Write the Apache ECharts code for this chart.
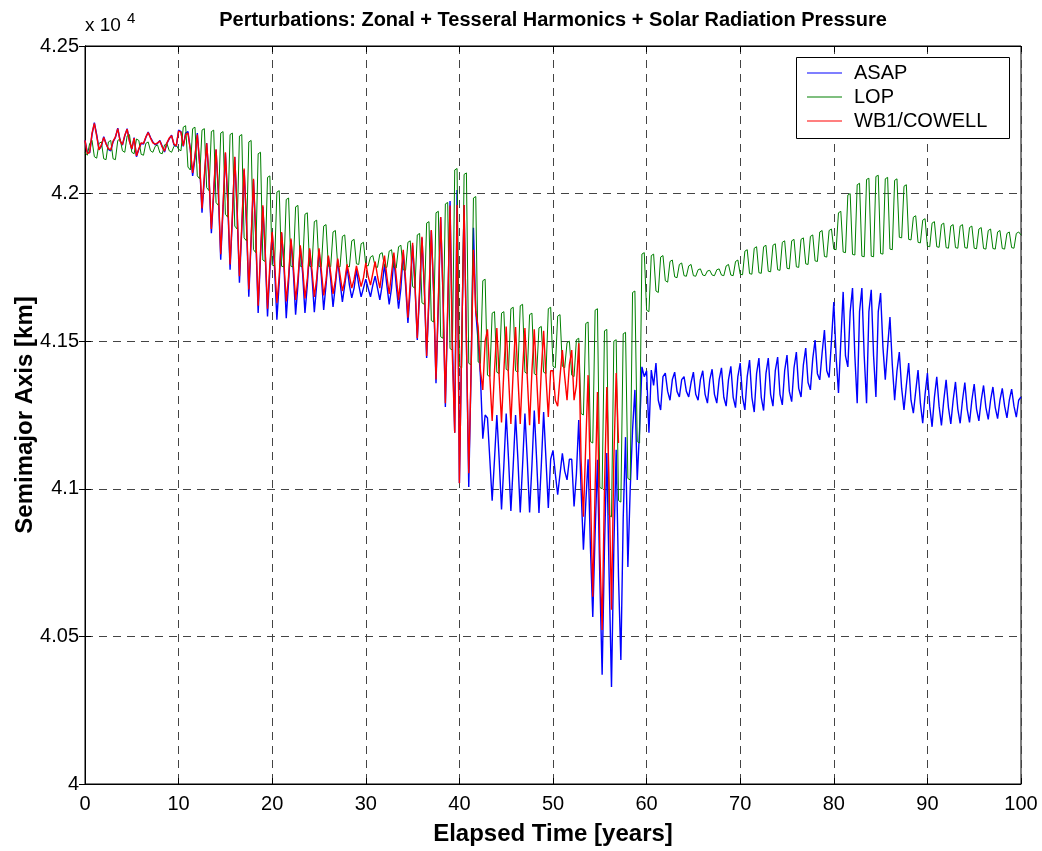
<!DOCTYPE html>
<html><head><meta charset="utf-8">
<script src="https://cdn.jsdelivr.net/npm/echarts@6/dist/echarts.min.js"></script>
<style>html,body{margin:0;padding:0;background:#fff}#c{width:1042px;height:851px}</style>
</head><body><div id="c"></div>
<script>
// samples every quarter year, values in km
const STEP = 0.25;
const SERIES_NAMES = ['ASAP', 'LOP', 'WB1/COWELL'];
const ASAP = [
42180,42140,42138,42200, 42240,42200,42150,42160, 42193,42170,42150,42145, 42175,42190,42222,42180,
42164,42195,42220,42180, 42150,42190,42125,42150, 42170,42168,42190,42209, 42190,42175,42165,42170,
42180,42160,42141,42170, 42185,42198,42165,42160, 42215,42210,42160,42205, 42210,42150,42060,42120,
42205,42100,41935,42050, 42171,42050,41866,42000, 42148,42000,41776,41950, 42137,41970,41742,41920,
42124,41940,41698,41880, 42080,41900,41651,41840, 42046,41850,41596,41790, 41955,41800,41584,41740,
41866,41750,41573,41700, 41866,41760,41578,41700, 41843,41740,41590,41690, 41820,41730,41596,41690,
41810,41720,41598,41690, 41810,41720,41606,41690, 41786,41710,41616,41690, 41776,41700,41633,41690,
41752,41690,41647,41680, 41742,41690,41650,41680, 41710,41680,41650,41690, 41720,41680,41640,41690,
41760,41690,41625,41680, 41780,41690,41610,41680, 41800,41690,41562,41670, 41825,41690,41504,41660,
41850,41680,41443,41640, 41875,41660,41358,41620, 41920,41650,41277,41600, 41975,41500,41190,42012,
41020,41500,41961,41500, 41006,41400,41884,41600, 41500,41380,41170,41250, 41240,41100,40960,41100,
41250,41100,40930,41080, 41255,41100,40925,41080, 41250,41100,40920,41080, 41255,41100,40920,41080,
41265,41100,40918,41080, 41260,41100,40935,41100, 41130,41050,40980,41050, 41120,41060,41030,41100,
41100,40940,41050,41233, 41000,40794,40950,41100, 40800,40566,40850,41098, 40700,40370,40800,41121,
40700,40329,40800,41132, 40700,40420,40900,41175, 40735,41000,41200,41335, 41030,41200,41413,41380,
41400,41190,41402,41350, 41426,41300,41267,41380, 41392,41330,41300,41370, 41395,41330,41311,41370,
41380,41330,41311,41360, 41395,41320,41300,41370, 41400,41320,41290,41370, 41405,41320,41290,41370,
41410,41310,41280,41370, 41415,41310,41275,41380, 41426,41310,41267,41380, 41436,41310,41260,41390,
41443,41310,41265,41390, 41443,41320,41280,41400, 41446,41320,41284,41400, 41453,41330,41295,41410,
41463,41340,41311,41420, 41477,41360,41335,41440, 41504,41390,41369,41460, 41538,41400,41377,41500,
41633,41446,41325,41500, 41667,41450,41413,41600, 41680,41450,41290,41600, 41680,41450,41290,41600,
41674,41450,41311,41600, 41663,41480,41370,41480, 41582,41420,41300,41400, 41463,41340,41267,41350,
41426,41300,41256,41330, 41402,41290,41222,41320, 41392,41280,41210,41310, 41379,41280,41215,41300,
41369,41275,41220,41300, 41362,41270,41222,41300, 41360,41270,41225,41300, 41355,41270,41230,41300,
41350,41275,41235,41300, 41345,41275,41238,41300, 41340,41280,41240,41300, 41338,41280,41243,41300,
41311
];
const LOP = [
42140,42130,42170,42180, 42125,42120,42170,42175, 42118,42115,42175,42180, 42118,42115,42180,42185,
42145,42140,42195,42200, 42140,42135,42185,42180, 42133,42130,42170,42175, 42145,42140,42160,42165,
42138,42135,42165,42170, 42145,42140,42160,42165, 42150,42145,42225,42230, 42090,42080,42220,42225,
42060,42050,42215,42220, 42020,42010,42210,42215, 41970,41960,42205,42210, 41930,41920,42200,42205,
41890,41880,42195,42200, 41850,41840,42175,42180, 41810,41800,42135,42140, 41775,41770,42055,42060,
41758,41755,42005,42010, 41754,41752,41980,41985, 41754,41752,41955,41960, 41754,41752,41930,41935,
41754,41752,41905,41910, 41754,41752,41890,41895, 41754,41752,41870,41875, 41754,41752,41855,41860,
41754,41752,41840,41845, 41762,41760,41830,41835, 41757,41755,41785,41790, 41752,41750,41795,41800,
41752,41750,41805,41810, 41750,41748,41820,41825, 41742,41740,41835,41840, 41685,41680,41860,41865,
41630,41625,41900,41905, 41570,41565,41935,41940, 41515,41510,41965,41970, 41475,41470,42080,42085,
41415,41410,42065,42070, 41425,41420,41985,41990, 41430,41425,41705,41710, 41385,41380,41595,41600,
41395,41390,41595,41600, 41405,41400,41610,41615, 41400,41395,41620,41625, 41395,41390,41590,41595,
41390,41385,41545,41550, 41395,41390,41610,41615, 41415,41410,41585,41590, 41415,41410,41495,41500,
41385,41380,41505,41510, 41255,41250,41560,41565, 41160,41155,41605,41610, 41005,41000,41535,41540,
40910,40905,41500,41505, 40960,40955,41525,41530, 41035,41030,41665,41670, 41160,41155,41795,41800,
41605,41600,41790,41795, 41670,41665,41785,41790, 41705,41700,41770,41775, 41718,41715,41760,41765,
41722,41720,41755,41760, 41722,41720,41742,41745, 41724,41722,41738,41740, 41724,41722,41742,41745,
41724,41722,41755,41760, 41724,41722,41770,41775, 41727,41725,41805,41810, 41729,41727,41815,41820,
41732,41730,41820,41825, 41737,41735,41825,41830, 41742,41740,41835,41840, 41747,41745,41840,41845,
41752,41750,41845,41850, 41762,41760,41855,41860, 41772,41770,41870,41875, 41787,41785,41875,41880,
41812,41810,41935,41940, 41802,41800,41995,42000, 41794,41792,42030,42035, 41788,41786,42048,42052,
41788,41786,42058,42062, 41797,41795,42050,42055, 41812,41810,42045,42050, 41852,41850,42025,42030,
41845,41843,41920,41925, 41835,41833,41910,41915, 41822,41820,41900,41905, 41820,41818,41895,41900,
41817,41815,41890,41895, 41817,41815,41890,41895, 41817,41815,41885,41890, 41815,41813,41880,41885,
41814,41812,41875,41880, 41814,41812,41870,41875, 41814,41812,41865,41870, 41817,41815,41865,41870,
41860
];
const WB1 = [
42180,42135,42140,42205, 42238,42195,42148,42165, 42190,42168,42152,42148, 42178,42192,42220,42178,
42166,42198,42218,42176, 42152,42188,42128,42152, 42172,42170,42192,42207, 42188,42172,42168,42172,
42178,42158,42144,42172, 42188,42196,42168,42162, 42212,42208,42162,42200, 42205,42150,42070,42130,
42200,42100,41950,42060, 42170,42060,41880,42010, 42150,42010,41795,41960, 42140,41980,41760,41930,
42125,41950,41720,41890, 42085,41910,41675,41850, 42050,41860,41620,41800, 41960,41810,41610,41760,
41870,41770,41630,41720, 41870,41770,41635,41720, 41848,41760,41640,41710, 41825,41750,41645,41710,
41815,41740,41650,41710, 41815,41740,41655,41705, 41790,41730,41660,41705, 41780,41725,41670,41705,
41760,41720,41680,41710, 41755,41720,41685,41715, 41765,41720,41690,41730, 41770,41720,41680,41740,
41790,41720,41660,41730, 41800,41720,41640,41720, 41810,41710,41580,41700, 41833,41700,41510,41680,
41854,41690,41450,41660, 41877,41670,41370,41640, 41921,41660,41290,41620, 41960,41450,41190,41961,
41019,41500,41961,41500, 41053,41400,41810,41600, 41549,41400,41335,41500, 41540,41380,41230,41400,
41545,41380,41225,41400, 41550,41380,41220,41400, 41548,41380,41220,41400, 41545,41380,41215,41400,
41540,41380,41220,41400, 41535,41380,41243,41400, 41400,41300,41280,41380, 41470,41380,41300,41420,
41470,41300,41350,41493, 41100,40905,41150,41385, 41000,40634,41000,41328, 40800,40522,41000,41345,
41000,40590,41100,41392, 41155
];

const toXY = arr => arr.map((v, i) => [i * STEP, v]);
const FONT = '"Liberation Sans", Arial, Helvetica, sans-serif';
const chart = echarts.init(document.getElementById('c'), null, {renderer: 'canvas'});

const tickStyle = {show: true, inside: true, length: 6, lineStyle: {color: '#000', width: 1}};
chart.setOption({
  animation: false,
  backgroundColor: '#fff',
  title: {
    text: 'Perturbations: Zonal + Tesseral Harmonics + Solar Radiation Pressure',
    left: 553, textAlign: 'center', top: 10, padding: 0,
    textStyle: {fontFamily: FONT, fontSize: 20, fontWeight: 'bold', color: '#000'}
  },
  grid: {left: 85, right: 21, top: 46, bottom: 67, show: true, borderColor: '#000', borderWidth: 1,
         containLabel: false, outerBoundsMode: 'none'},
  legend: {
    data: SERIES_NAMES, orient: 'vertical', left: 807, top: 61, padding: 0,
    icon: 'rect', itemWidth: 35, itemHeight: 1.2, itemGap: 0, z: 60,
    textStyle: {fontFamily: FONT, fontSize: 20, color: '#000', padding: [0, 0, 0, 7], lineHeight: 24, height: 24}
  },
  graphic: [
    {type: 'rect', z: 50, shape: {x: 796.5, y: 57.5, width: 213, height: 81},
     style: {fill: '#fff', stroke: '#000', lineWidth: 1}},
    {type: 'text', z: 50, style: {x: 85, y: 35, text: 'x 10', font: '19px ' + FONT, fill: '#000', textVerticalAlign: 'bottom'}},
    {type: 'text', z: 50, style: {x: 127, y: 26, text: '4', font: '15px ' + FONT, fill: '#000', textVerticalAlign: 'bottom'}}
  ],
  xAxis: [{
    type: 'value', min: 0, max: 100, interval: 10, position: 'bottom',
    name: 'Elapsed Time [years]', nameLocation: 'middle', nameGap: 38, nameMoveOverlap: false,
    nameTextStyle: {fontFamily: FONT, fontSize: 24, fontWeight: 'bold', color: '#000'},
    axisLine: {show: true, lineStyle: {color: '#000', width: 1}},
    axisTick: tickStyle,
    axisLabel: {fontFamily: FONT, fontSize: 20, color: '#000', margin: 10},
    splitLine: {show: true, lineStyle: {color: '#444', width: 1, type: [8, 6]}}
  }, {
    type: 'value', min: 0, max: 100, interval: 10, position: 'top',
    axisLine: {show: true, lineStyle: {color: '#000'}}, axisTick: tickStyle,
    axisLabel: {show: false}, splitLine: {show: false}
  }],
  yAxis: [{
    type: 'value', min: 40000, max: 42500, interval: 500, position: 'left',
    name: 'Semimajor Axis [km]', nameLocation: 'middle', nameGap: 48, nameMoveOverlap: false,
    nameTextStyle: {fontFamily: FONT, fontSize: 24, fontWeight: 'bold', color: '#000'},
    axisLine: {show: true, lineStyle: {color: '#000', width: 1}},
    axisTick: tickStyle,
    axisLabel: {fontFamily: FONT, fontSize: 20, color: '#000', margin: 6,
      formatter: v => String(parseFloat((v / 10000).toFixed(2)))},
    splitLine: {show: true, lineStyle: {color: '#444', width: 1, type: [8, 6]}}
  }, {
    type: 'value', min: 40000, max: 42500, interval: 500, position: 'right',
    axisLine: {show: true, lineStyle: {color: '#000'}}, axisTick: tickStyle,
    axisLabel: {show: false}, splitLine: {show: false}
  }],
  series: [
    {name: 'ASAP', type: 'line', data: toXY(ASAP), symbol: 'none', z: 2,
     lineStyle: {color: '#0000ff', width: 1.4}, itemStyle: {color: '#0000ff'}},
    {name: 'LOP', type: 'line', data: toXY(LOP), symbol: 'none', z: 3,
     lineStyle: {color: '#008000', width: 1}, itemStyle: {color: '#008000'}},
    {name: 'WB1/COWELL', type: 'line', data: toXY(WB1), symbol: 'none', z: 4,
     lineStyle: {color: '#ff0000', width: 1.4}, itemStyle: {color: '#ff0000'}}
  ]
});
</script></body></html>
